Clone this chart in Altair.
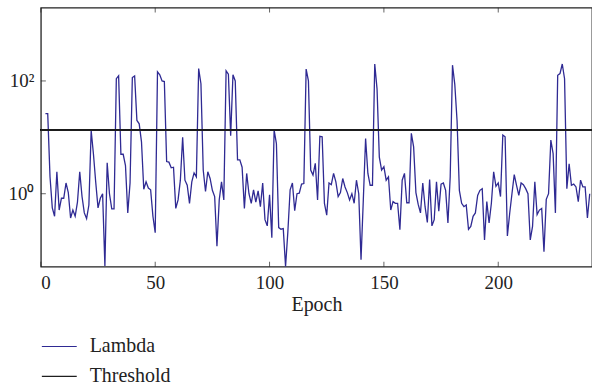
import altair as alt
import pandas as pd

# Epochs 2..240, Lambda values (as log10)
epoch_start = 2
lambda_log10 = [
    1.42, 1.42, 0.30, -0.25, -0.40, 0.39, -0.29, -0.08, -0.08, 0.19,   # 2-11
    0.02, -0.43, -0.29, -0.40, -0.15, 0.39, -0.05, -0.34, -0.44, -0.20,  # 12-21
    1.12, 0.70, 0.20, -0.25, -0.08, 0.00, -1.28, 0.55, 0.00, -0.27,      # 22-31
    -0.27, 2.04, 2.09, 0.70, 0.70, 0.50, -0.34, 0.19, 2.06, 2.09,        # 32-41
    1.30, 1.24, 0.92, 0.08, 0.21, 0.10, 0.07, -0.40, -0.69, 2.16,        # 42-51
    2.11, 2.00, 1.99, 0.57, 0.56, 0.46, 0.47, -0.26, -0.11, 0.24,        # 52-61
    1.00, 0.24, 0.15, -0.17, 0.21, 0.37, 0.30, 2.22, 1.95, 0.42,         # 62-71
    0.04, 0.39, 0.27, 0.06, -0.05, -0.93, -0.11, 0.21, -0.11, 2.18,      # 72-81
    2.12, 1.03, 2.11, 2.00, 0.60, 0.60, 0.47, -0.26, 0.36, 0.00,         # 82-91
    -0.17, 0.07, -0.15, 0.05, -0.23, 0.19, -0.46, -0.57, -0.02, -0.78,   # 92-101
    1.13, 0.89, -0.60, -0.63, -0.62, -1.29, -0.68, 0.07, 0.19, -0.30,    # 102-111
    0.00, 0.01, 0.17, 0.18, 2.21, 2.00, 0.42, 0.33, 0.54, -0.11,         # 112-121
    1.02, 1.01, -0.17, -0.38, 0.19, 0.16, 0.36, 0.21, -0.05, 0.02,       # 122-131
    0.27, 0.12, 0.02, -0.11, 0.00, -0.17, 0.24, 0.00, -1.17, -0.11,      # 132-141
    0.98, 0.36, 0.15, 0.15, 2.30, 1.86, 0.65, 0.42, 0.48, 0.24,          # 142-151
    0.30, -0.29, -0.14, -0.17, -0.17, -0.64, 0.24, 0.36, -0.16, -0.16,   # 152-161
    1.07, 0.83, 0.02, -0.19, -0.34, 0.19, -0.23, -0.51, 0.25, -0.57,     # 162-171
    -0.46, 0.21, -0.31, 0.17, 0.19, 0.06, -0.52, 0.30, 2.28, 1.94,       # 172-181
    1.29, 0.06, -0.17, -0.23, -0.20, -0.63, -0.58, -0.40, -0.34, -0.03,  # 182-191
    0.06, 0.09, -0.82, -0.14, -0.52, -0.17, 0.39, 0.13, 0.19, -0.05,     # 192-201
    1.04, 1.01, -0.75, -0.35, 0.00, 0.34, 0.15, -0.03, 0.19, 0.16,       # 202-211
    0.09, 0.00, -0.82, -0.58, 0.21, -0.37, -0.29, -0.26, -1.03, -0.10,   # 212-221
    0.00, 0.95, 0.71, -0.34, 2.10, 2.13, 2.30, 2.04, 0.09, 0.53,         # 222-231
    0.15, 0.17, 0.12, -0.14, 0.24, 0.12, 0.12, -0.43, 0.00,              # 232-240
]
threshold_value = 13.3
x_ticks = [0, 50, 100, 150, 200]
y_ticks = [1, 100]
series_names = ["Lambda", "Threshold"]
series_colors = ["#2f2a93", "#1e1e1e"]

epochs = list(range(epoch_start, epoch_start + len(lambda_log10)))
df = pd.DataFrame({
    "Epoch": epochs,
    "value": [10 ** v for v in lambda_log10],
    "series": ["Lambda"] * len(epochs),
})
xt = pd.DataFrame({"x": x_ticks})
yt = pd.DataFrame({"y": y_ticks})

W, H = 553, 260
FONT = "Liberation Serif"
INK = "#222222"

xscale = alt.Scale(domain=[0, 241], nice=False, zero=False)
yscale = alt.Scale(type="log", domain=[10 ** -1.295, 10 ** 3.3], nice=False)

color = alt.Color(
    "series:N",
    scale=alt.Scale(domain=series_names, range=series_colors),
    title=None,
    legend=alt.Legend(
        orient="none", legendX=0, legendY=325, symbolType="stroke",
        symbolSize=1225, symbolStrokeWidth=1.1, labelFont=FONT,
        labelFontSize=20, labelColor=INK, labelOffset=12,
        clipHeight=30, rowPadding=0, padding=0,
    ),
)

line = alt.Chart(df).mark_line(strokeWidth=1.3).encode(
    x=alt.X("Epoch:Q", scale=xscale,
            axis=alt.Axis(values=x_ticks, title="Epoch", grid=False, domain=False,
                          ticks=False, labelPadding=7, titlePadding=2,
                          labelFont=FONT, labelFontSize=19, labelColor=INK,
                          titleFont=FONT, titleFontSize=20, titleFontWeight="normal",
                          titleColor=INK)),
    y=alt.Y("value:Q", scale=yscale,
            axis=alt.Axis(values=y_ticks, title=None, grid=False, domain=False,
                          ticks=False, labelPadding=7,
                          labelExpr="datum.value == 1 ? '10⁰' : '10²'",
                          labelFont=FONT, labelFontSize=19, labelColor=INK)),
    color=color,
)

rule = alt.Chart(df).mark_rule(strokeWidth=1.0).encode(
    y=alt.Y(datum=threshold_value),
    color=alt.datum("Threshold"),
)

ytick = alt.Chart(yt).mark_tick(size=5, thickness=1, color=INK).encode(
    y=alt.Y("y:Q", scale=yscale), x=alt.value(2.5)
)
xtick_b = alt.Chart(xt).mark_tick(size=5, thickness=1, color=INK).encode(
    x=alt.X("x:Q", scale=xscale), y=alt.value(H - 2.5)
)
xtick_t = alt.Chart(xt).mark_tick(size=5, thickness=1, color=INK).encode(
    x=alt.X("x:Q", scale=xscale), y=alt.value(2.5)
)

chart = alt.layer(line, rule, ytick, xtick_b, xtick_t).properties(
    width=W, height=H,
    padding={"left": 41, "top": 7, "right": 0, "bottom": 120},
    autosize="none",
).configure(
    background="white",
    view=alt.ViewConfig(stroke=INK, strokeWidth=1.3),
)

chart.save("out.html", embed_options={"renderer": "svg", "actions": False})
